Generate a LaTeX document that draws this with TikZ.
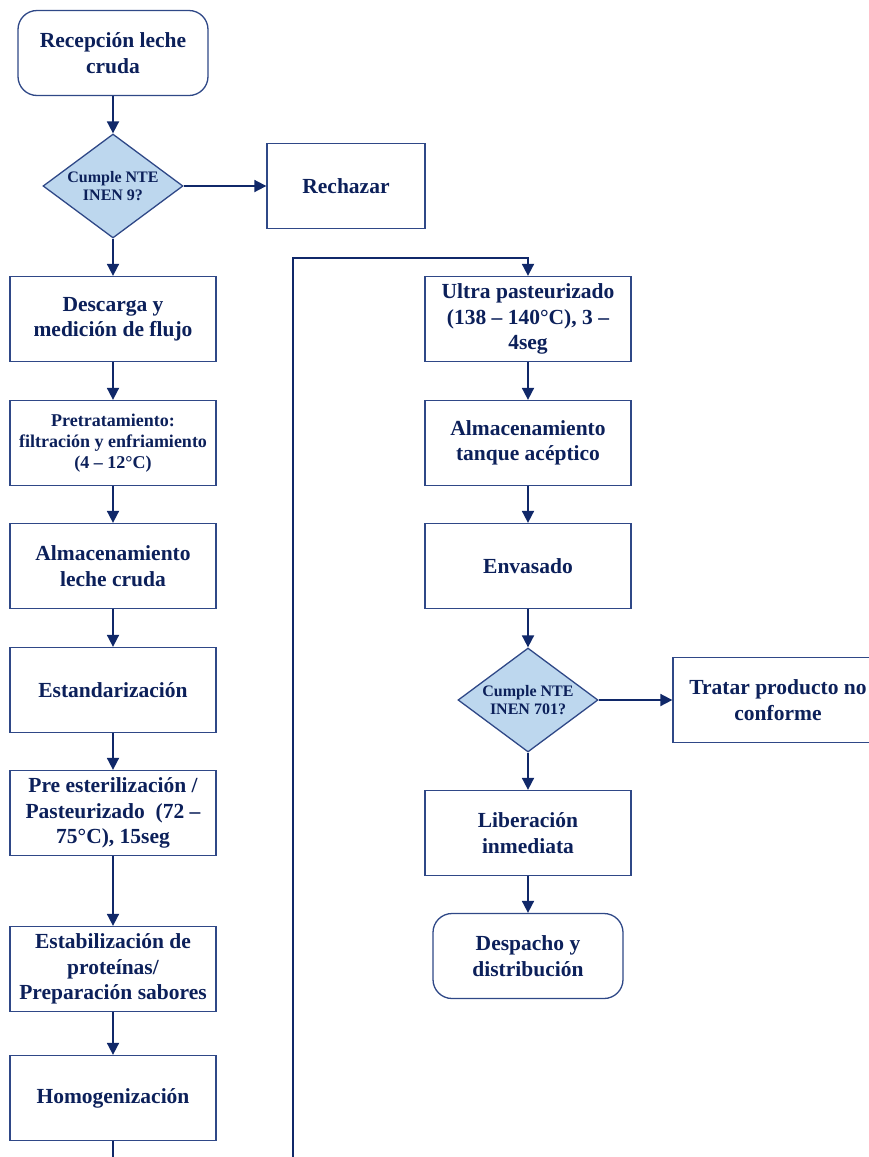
\documentclass[tikz,border=0pt]{standalone}
\usepackage{fontspec}
\setmainfont{Liberation Serif}
\usetikzlibrary{shapes.geometric,arrows.meta}
\definecolor{ink}{RGB}{12,32,90}
\definecolor{edge}{RGB}{47,72,135}
\definecolor{wire}{RGB}{16,40,105}
\definecolor{decfill}{RGB}{189,215,238}

\begin{document}
\begin{tikzpicture}[x=1pt,y=-1pt,
  proc/.style={draw=edge, line width=1.3pt, fill=white, minimum width=206pt,
    minimum height=85pt, align=center, text=ink, inner sep=0pt,
    font=\bfseries\fontsize{21.5}{25.5}\selectfont},
  term/.style={proc, rounded corners=19pt, minimum width=190pt},
  decision/.style={diamond, draw=edge, line width=1.3pt, fill=decfill,
    minimum width=140pt, minimum height=104pt, aspect=1.346, inner sep=0pt,
    align=center, text=ink, font=\bfseries\fontsize{16}{18}\selectfont},
  flow/.style={draw=wire, line width=1.8pt, -{Triangle[length=12pt,width=12pt]}},
  wireline/.style={draw=wire, line width=1.8pt}]

\clip (0,0) rectangle (869,1157);

% left column
\node[term] (rec) at (113,53) {Recepción leche\\cruda};
\node[decision] (d1) at (113,186) {Cumple NTE\\INEN 9?};
\node[proc, minimum width=158pt] (rech) at (346,186) {Rechazar};
\node[proc] (desc) at (113,319) {Descarga y\\medición de flujo};
\node[proc, font=\bfseries\fontsize{18}{21}\selectfont] (pret) at (113,443)
  {Pretratamiento:\\filtración y enfriamiento\\(4 – 12°C)};
\node[proc] (alm1) at (113,566) {Almacenamiento\\leche cruda};
\node[proc] (std) at (113,690) {Estandarización};
\node[proc] (pre) at (113,813) {Pre esterilización /\\Pasteurizado\ \ (72 –\\75°C), 15seg};
\node[proc] (estab) at (113,969) {Estabilización de\\proteínas/\\Preparación sabores};
\node[proc] (homo) at (113,1098) {Homogenización};

% right column
\node[proc] (ultra) at (528,319) {Ultra pasteurizado\\(138 – 140°C), 3 –\\4seg};
\node[proc] (alm2) at (528,443) {Almacenamiento\\tanque acéptico};
\node[proc] (env) at (528,566) {Envasado};
\node[decision] (d2) at (528,700) {Cumple NTE\\INEN 701?};
\node[proc, minimum width=210pt] (trat) at (778,700) {Tratar producto no\\conforme};
\node[proc] (lib) at (528,833) {Liberación\\inmediata};
\node[term] (desp) at (528,956) {Despacho y\\distribución};

% connectors
\draw[flow] (rec) -- (d1);
\draw[flow] (d1.east) -- (rech.west);
\draw[flow] (d1) -- (desc);
\draw[flow] (desc) -- (pret);
\draw[flow] (pret) -- (alm1);
\draw[flow] (alm1) -- (std);
\draw[flow] (std) -- (pre);
\draw[flow] (pre) -- (estab);
\draw[flow] (estab) -- (homo);

\coordinate (homoout) at (113,1162);
\draw[wireline] (homo.south) -- (homoout);

\coordinate (loopin) at (293,1162);
\coordinate (turn) at (293,258);
\draw[flow] (loopin) -- (turn) -| (ultra.north);

\draw[flow] (ultra) -- (alm2);
\draw[flow] (alm2) -- (env);
\draw[flow] (env) -- (d2);
\draw[flow] (d2.east) -- (trat.west);
\draw[flow] (d2) -- (lib);
\draw[flow] (lib) -- (desp);
\end{tikzpicture}
\end{document}
